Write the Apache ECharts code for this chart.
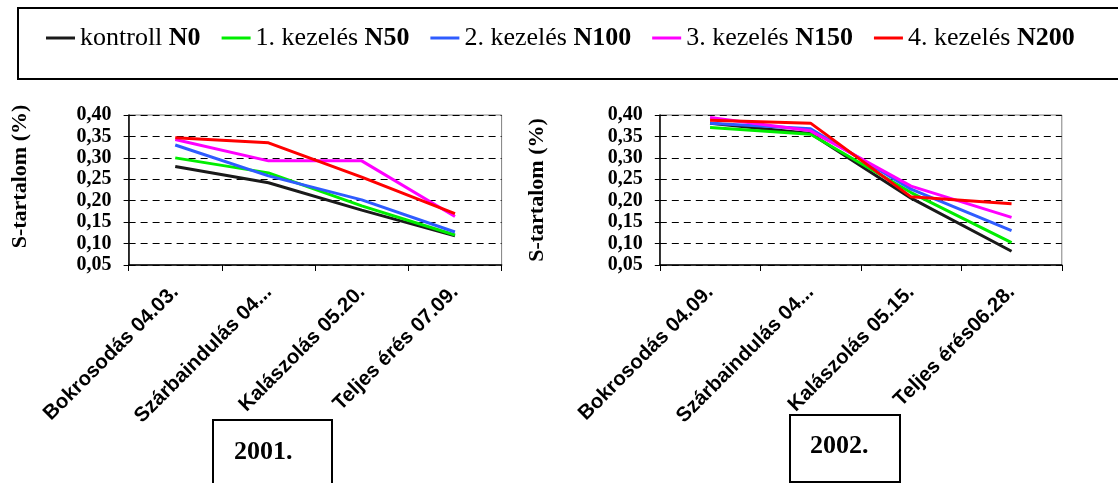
<!DOCTYPE html>
<html>
<head>
<meta charset="utf-8">
<script src="https://cdn.jsdelivr.net/npm/echarts@6/dist/echarts.min.js"></script>
<style>
html,body{margin:0;padding:0;background:#fff;}
#c{width:1118px;height:483px;}
</style>
</head>
<body>
<div id="c"></div>
<script>
var seriesNames = ['kontroll N0', '1. kezelés N50', '2. kezelés N100', '3. kezelés N150', '4. kezelés N200'];
var seriesColors = ['#1a1a1a', '#00ee00', '#2f5cff', '#ff00ff', '#ff0000'];

var categories2001 = ['Bokrosodás 04.03.', 'Szárbaindulás 04...', 'Kalászolás 05.20.', 'Teljes érés 07.09.'];
var categories2002 = ['Bokrosodás 04.09.', 'Szárbaindulás 04...', 'Kalászolás 05.15.', 'Teljes érés06.28.'];

var kontroll2001 = [0.280, 0.242, 0.178, 0.118];
var kezeles1_2001 = [0.300, 0.265, 0.188, 0.120];
var kezeles2_2001 = [0.330, 0.258, 0.202, 0.127];
var kezeles3_2001 = [0.343, 0.293, 0.293, 0.163];
var kezeles4_2001 = [0.347, 0.335, 0.255, 0.170];

var kontroll2002 = [0.381, 0.357, 0.206, 0.082];
var kezeles1_2002 = [0.371, 0.355, 0.219, 0.102];
var kezeles2_2002 = [0.381, 0.368, 0.227, 0.130];
var kezeles3_2002 = [0.394, 0.363, 0.234, 0.161];
var kezeles4_2002 = [0.388, 0.381, 0.209, 0.193];

var yMin = 0.05, yMax = 0.40, yStep = 0.05;
var yTitle = 'S-tartalom (%)';
var yearLabels = ['2001.', '2002.'];
var topNote = '(Debreceni Egyetem, Látókép, 2001, 2002)';

var data2001 = [kontroll2001, kezeles1_2001, kezeles2_2001, kezeles3_2001, kezeles4_2001];
var data2002 = [kontroll2002, kezeles1_2002, kezeles2_2002, kezeles3_2002, kezeles4_2002];

var SERIF = 'Liberation Serif, Times New Roman, serif';
var SANS = 'Liberation Sans, Arial, sans-serif';

function xAxisCfg(idx, cats) {
  return {
    type: 'category', gridIndex: idx, data: cats, boundaryGap: true,
    axisLine: { lineStyle: { color: '#000', width: 1.5 } },
    axisTick: { show: true, inside: false, length: 6, lineStyle: { color: '#000' } },
    axisLabel: { interval: 0, rotate: 45, margin: 24, color: '#000',
      fontFamily: SANS, fontWeight: 'bold', fontSize: 20.5 },
    splitLine: { show: false }
  };
}
function yAxisCfg(idx) {
  return {
    type: 'value', gridIndex: idx, min: yMin, max: yMax, interval: yStep,
    axisLine: { show: true, lineStyle: { color: '#000', width: 1.5 } },
    axisTick: { show: true, inside: false, length: 5, lineStyle: { color: '#000' } },
    axisLabel: { margin: 17, color: '#000', fontFamily: SERIF, fontWeight: 'bold', fontSize: 20,
      showMinLabel: true, showMaxLabel: true,
      formatter: function (v) { return v.toFixed(2).replace('.', ','); } },
    splitLine: { show: true, lineStyle: { color: '#000', width: 1, type: [7, 5] } }
  };
}

var series = [];
[data2001, data2002].forEach(function (set, g) {
  set.forEach(function (vals, i) {
    series.push({
      type: 'line', name: seriesNames[i], xAxisIndex: g, yAxisIndex: g,
      data: vals, showSymbol: false, symbol: 'none', smooth: false,
      lineStyle: { width: 3, color: seriesColors[i] },
      itemStyle: { color: seriesColors[i] },
      z: 3 + i
    });
  });
});

var chart = echarts.init(document.getElementById('c'), null, { renderer: 'canvas' });
chart.setOption({
  animation: false,
  backgroundColor: '#fff',
  grid: [
    { left: 128.6, top: 115, width: 373, height: 150, show: true, borderColor: '#808080', borderWidth: 1 },
    { left: 659.8, top: 115, width: 402, height: 150, show: true, borderColor: '#808080', borderWidth: 1 }
  ],
  xAxis: [xAxisCfg(0, categories2001), xAxisCfg(1, categories2002)],
  yAxis: [yAxisCfg(0), yAxisCfg(1)],
  legend: {
    left: 46, top: 25, padding: 0, itemGap: 21, itemWidth: 29, itemHeight: 3, icon: 'rect',
    data: seriesNames,
    formatter: function (name) {
      var k = name.lastIndexOf(' ');
      return '{n|' + name.slice(0, k + 1) + '}{b|' + name.slice(k + 1) + '}';
    },
    textStyle: {
      color: '#000', fontFamily: SERIF, fontSize: 26,
      rich: {
        n: { fontFamily: SERIF, fontSize: 26, color: '#000', lineHeight: 30 },
        b: { fontFamily: SERIF, fontSize: 26, fontWeight: 'bold', color: '#000', lineHeight: 30 }
      }
    }
  },
  graphic: [
    { type: 'text', left: 'center', top: -27, silent: true,
      style: { text: topNote, font: 'italic 26px ' + SERIF, fill: '#000' } },
    { type: 'rect', shape: { x: 18, y: 8, width: 1120, height: 71 },
      style: { fill: 'none', stroke: '#000', lineWidth: 2 }, silent: true },
    { type: 'text', x: 20, y: 176.5, rotation: Math.PI / 2, silent: true,
      style: { text: yTitle, font: 'bold 22px ' + SERIF, fill: '#000', textAlign: 'center', textVerticalAlign: 'middle' } },
    { type: 'text', x: 537, y: 190, rotation: Math.PI / 2, silent: true,
      style: { text: yTitle, font: 'bold 22px ' + SERIF, fill: '#000', textAlign: 'center', textVerticalAlign: 'middle' } },
    { type: 'rect', shape: { x: 213, y: 420, width: 119, height: 90 },
      style: { fill: '#fff', stroke: '#000', lineWidth: 2 }, silent: true },
    { type: 'text', x: 234, y: 452, silent: true,
      style: { text: yearLabels[0], font: 'bold 26px ' + SERIF, fill: '#000', textAlign: 'left', textVerticalAlign: 'middle' } },
    { type: 'rect', shape: { x: 790, y: 415, width: 110, height: 67 },
      style: { fill: '#fff', stroke: '#000', lineWidth: 2 }, silent: true },
    { type: 'text', x: 810, y: 446, silent: true,
      style: { text: yearLabels[1], font: 'bold 26px ' + SERIF, fill: '#000', textAlign: 'left', textVerticalAlign: 'middle' } }
  ],
  series: series
});
</script>
</body>
</html>
